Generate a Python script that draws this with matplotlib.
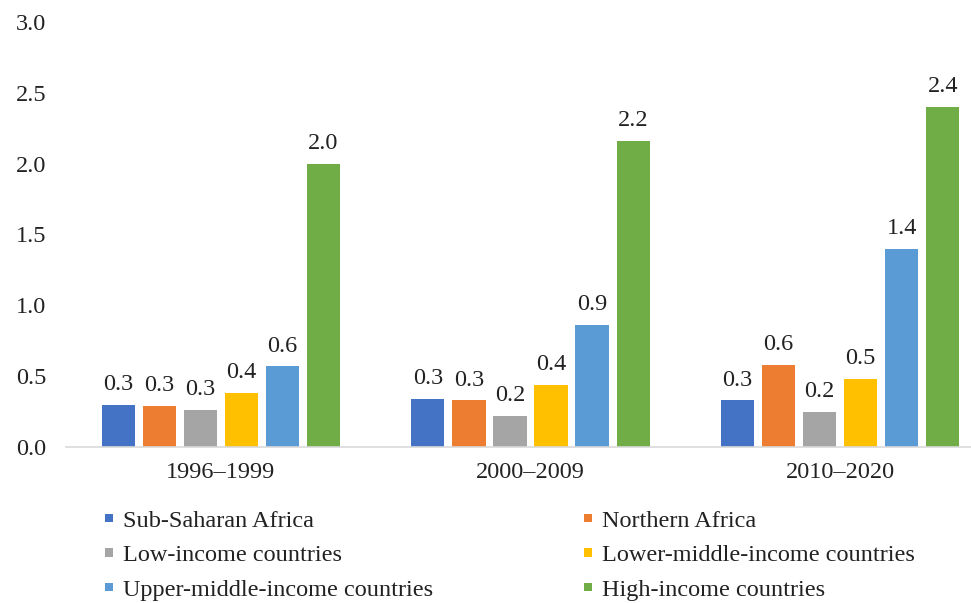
import matplotlib
matplotlib.use("Agg")
import matplotlib.pyplot as plt
from matplotlib.patches import Patch
import numpy as np

plt.rcParams["font.family"] = ["Liberation Serif", "DejaVu Serif"]

periods = ["1996\u20131999", "2000\u20132009", "2010\u20132020"]
series_names = [
    "Sub-Saharan Africa",
    "Northern Africa",
    "Low-income countries",
    "Lower-middle-income countries",
    "Upper-middle-income countries",
    "High-income countries",
]
colors = ["#4472C4", "#ED7D31", "#A5A5A5", "#FFC000", "#5B9BD5", "#70AD47"]

sub_saharan = [0.30, 0.34, 0.33]
northern_africa = [0.29, 0.33, 0.58]
low_income = [0.26, 0.22, 0.25]
lower_middle = [0.38, 0.44, 0.48]
upper_middle = [0.57, 0.86, 1.40]
high_income = [2.00, 2.16, 2.40]
values = [sub_saharan, northern_africa, low_income, lower_middle, upper_middle, high_income]

y_ticks = [0.0, 0.5, 1.0, 1.5, 2.0, 2.5, 3.0]

W, H = 971, 603
fig = plt.figure(figsize=(W / 100, H / 100), dpi=100)
ax_left, ax_right = 66, 995
ax_bottom, ax_top = 447, 22
ax = fig.add_axes([ax_left / W, (H - ax_bottom) / H,
                   (ax_right - ax_left) / W, (ax_bottom - ax_top) / H])

x = np.arange(len(periods))
bar_w = 0.107
step = 0.1325
offsets = (np.arange(len(series_names)) - (len(series_names) - 1) / 2) * step

fs = 17.5
text_col = "#222222"
for i, (name, vals, col) in enumerate(zip(series_names, values, colors)):
    bars = ax.bar(x + offsets[i], vals, width=bar_w, color=col, label=name, zorder=2)
    for b, v in zip(bars, vals):
        ax.annotate(f"{v:.1f}", (b.get_x() + b.get_width() / 2, v),
                    xytext=(0, 7), textcoords="offset points",
                    ha="center", va="bottom", fontsize=fs, color=text_col)

ax.set_xlim(-0.5, 2.5)
ax.set_ylim(0, 3.0)
ax.set_yticks(y_ticks)
ax.set_yticklabels([f"{t:.1f}" for t in y_ticks])
ax.set_xticks(x)
ax.set_xticklabels(periods)
ax.tick_params(axis="both", length=0, labelsize=fs, colors=text_col)
ax.tick_params(axis="y", pad=14)
ax.tick_params(axis="x", pad=11)
for s in ["top", "right", "left"]:
    ax.spines[s].set_visible(False)
ax.spines["bottom"].set_color("#D9D9D9")
ax.spines["bottom"].set_linewidth(1.2)

# legend laid out column by column: left column then right column
order = [0, 2, 4, 1, 3, 5]
handles = [Patch(facecolor=colors[i], edgecolor="none") for i in order]
labels = [series_names[i] for i in order]
leg = fig.legend(handles, labels, ncol=2, loc="upper left",
                 bbox_to_anchor=(105 / W, 1 - 511 / H), frameon=False,
                 fontsize=fs, handlelength=0.33, handleheight=0.15,
                 handletextpad=0.41, columnspacing=6.2, labelspacing=0.55,
                 borderaxespad=0, borderpad=0)
for t in leg.get_texts():
    t.set_color(text_col)

fig.savefig("out.png", dpi=100)
